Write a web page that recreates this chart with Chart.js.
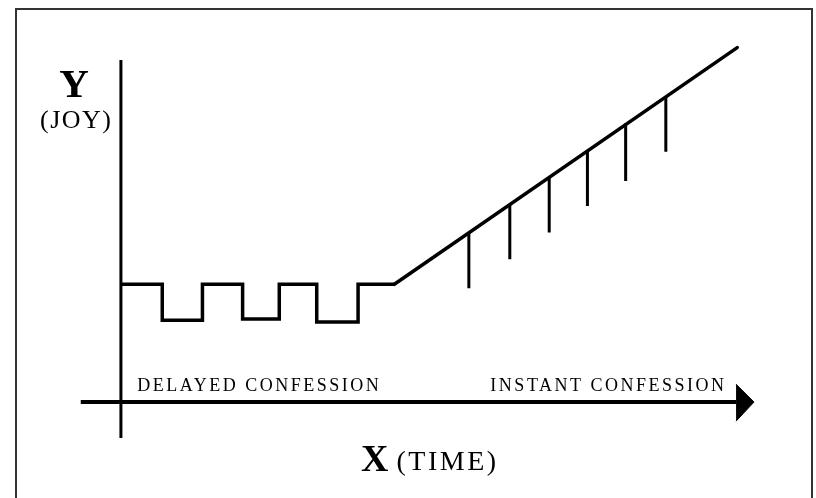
<!DOCTYPE html>
<html>
<head>
<meta charset="utf-8">
<script src="https://cdn.jsdelivr.net/npm/chart.js@4.4.1/dist/chart.umd.min.js"></script>
<style>
  html, body { margin: 0; padding: 0; background: #fff; }
  #wrap { width: 816px; height: 498px; position: relative; }
</style>
</head>
<body>
<div id="wrap"><canvas id="joyChart"></canvas></div>
<script>
'use strict';

// delayed confession: joy dips and comes back (stepped)
const delayedTime = [0, 1.06, 2.09, 3.12, 4.06, 5.02, 6.08, 7.01];
const delayedJoy  = [3.02, 2.10, 3.02, 2.13, 3.02, 2.05, 3.02, 3.02];

// instant confession: steady climb
const instantTime = [7.01, 15.80];
const instantJoy  = [3.02, 9.09];

// the little drops hanging off the climb
const dropTime   = [8.92, 9.97, 10.98, 11.96, 12.94, 13.97];
const dropTop    = [4.33, 5.06, 5.76, 6.46, 7.14, 7.85];
const dropBottom = [2.92, 3.66, 4.35, 5.03, 5.67, 6.42];

// axes
const yAxisJoy  = [-0.92, 8.77];
const xAxisTime = [-1.03, 15.77];
const arrowTime = [15.77, 16.23, 15.77];
const arrowJoy  = [0.46, 0, -0.49];

const FONT = '"Liberation Serif", "Times New Roman", serif';
const INK = '#000';

const pts = (xs, ys) => xs.map((v, i) => ({ x: v, y: ys[i] }));

const lineSet = (data, extra) => Object.assign({
  type: 'line',
  data: data,
  borderColor: INK,
  borderWidth: 3.5,
  pointRadius: 0,
  fill: false,
  tension: 0,
  borderCapStyle: 'butt',
  borderJoinStyle: 'miter'
}, extra || {});

const datasets = [
  lineSet(pts([0, 0], yAxisJoy), { borderWidth: 3 }),
  lineSet(pts(xAxisTime, [0, 0]), { borderWidth: 4 }),
  lineSet(pts(arrowTime, arrowJoy), {
    borderWidth: 1, backgroundColor: INK, fill: 'shape'
  }),
  lineSet(pts(delayedTime, delayedJoy), { stepped: 'before' }),
  lineSet(pts(instantTime, instantJoy), { borderCapStyle: 'round' })
];
dropTime.forEach((t, i) => {
  datasets.push(lineSet(pts([t, t], [dropTop[i], dropBottom[i]]), { borderWidth: 3 }));
});

// frame + hand-lettered labels
const sketchPlugin = {
  id: 'sketch',
  beforeDraw(chart) {
    const ctx = chart.ctx;
    ctx.save();
    ctx.strokeStyle = '#333';
    ctx.lineWidth = 2;
    ctx.strokeRect(16, 9, 796, 600);
    ctx.restore();
  },
  afterDatasetsDraw(chart) {
    const { ctx, scales: { x, y } } = chart;
    ctx.save();
    ctx.fillStyle = '#000';
    ctx.textBaseline = 'alphabetic';

    // Y (JOY)
    ctx.textAlign = 'center';
    ctx.font = 'bold 41px ' + FONT;
    ctx.fillText('Y', x.getPixelForValue(-1.2), y.getPixelForValue(7.82));
    ctx.font = '26px ' + FONT;
    ctx.letterSpacing = '1.5px';
    ctx.fillText('(JOY)', x.getPixelForValue(-1.17) + 1, y.getPixelForValue(7.03));

    // phase captions
    ctx.font = '18px ' + FONT;
    ctx.letterSpacing = '2.5px';
    ctx.textAlign = 'left';
    ctx.fillText('DELAYED CONFESSION', x.getPixelForValue(0.42), y.getPixelForValue(0.28));
    ctx.textAlign = 'right';
    ctx.fillText('INSTANT CONFESSION', x.getPixelForValue(15.46) + 2.5, y.getPixelForValue(0.28));

    // X (TIME)
    ctx.textAlign = 'left';
    ctx.letterSpacing = '0px';
    ctx.font = 'bold 38px ' + FONT;
    const wx = ctx.measureText('X').width;
    ctx.font = '28px ' + FONT;
    ctx.letterSpacing = '2.5px';
    const wt = ctx.measureText('(TIME)').width;
    const gap = 8;
    const left = x.getPixelForValue(7.92) - (wx + gap + wt) / 2;
    const base = y.getPixelForValue(-1.77);
    ctx.letterSpacing = '0px';
    ctx.font = 'bold 38px ' + FONT;
    ctx.fillText('X', left, base);
    ctx.font = '28px ' + FONT;
    ctx.letterSpacing = '2.5px';
    ctx.fillText('(TIME)', left + wx + gap, base - 1);
    ctx.restore();
  }
};

new Chart(document.getElementById('joyChart'), {
  type: 'scatter',
  data: { datasets: datasets },
  options: {
    responsive: true,
    maintainAspectRatio: false,
    devicePixelRatio: 1,
    animation: false,
    layout: { padding: 0 },
    scales: {
      x: { type: 'linear', min: -3.10, max: 17.82, display: false, offset: false },
      y: { type: 'linear', min: -2.46, max: 10.31, display: false }
    },
    plugins: {
      legend: { display: false },
      tooltip: { enabled: false }
    }
  },
  plugins: [sketchPlugin]
});
</script>
</body>
</html>
